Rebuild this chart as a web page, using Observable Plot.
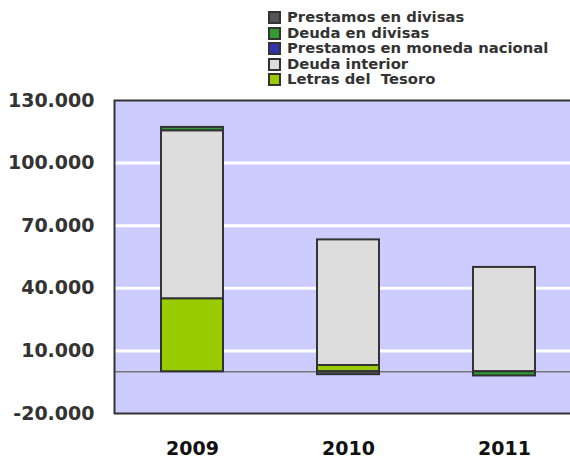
<!DOCTYPE html>
<html>
<head>
<meta charset="utf-8">
<script src="https://cdn.jsdelivr.net/npm/d3@7"></script>
<script src="https://cdn.jsdelivr.net/npm/@observablehq/plot@0.6"></script>
<style>
  html, body { margin: 0; padding: 0; background: #fff; overflow: hidden; width: 570px; height: 461px; }
  #legend { position: relative; height: 88px; width: 570px; font-family: "DejaVu Sans", sans-serif; font-weight: bold; font-size: 14.8px; color: #333; }
  .row { position: absolute; left: 268px; height: 15px; line-height: 15px; white-space: pre; }
  .sw { position: absolute; left: 0; top: 2px; width: 9px; height: 9px; border: 2px solid #333; }
  .lbl { position: absolute; left: 19px; top: 0; }
  #chart { width: 570px; overflow: hidden; }
  #chart svg { display: block; max-width: none !important; width: 610px !important; height: 373px !important; }
</style>
</head>
<body>
<div id="legend"></div>
<div id="chart"></div>
<script>
const years = ["2009", "2010", "2011"];
const seriesNames = ["Letras del  Tesoro", "Deuda interior", "Prestamos en moneda nacional", "Deuda en divisas", "Prestamos en divisas"];
const seriesColors = ["#99cc00", "#dddddd", "#3333aa", "#339933", "#555555"];
const letras = [35000, 3000, 0];
const deudaInterior = [80500, 60200, 50000];
const prestamosMonedaNacional = [0, 0, 0];
const deudaDivisas = [1600, 0, -2000];
const prestamosDivisas = [0, -1400, 0];
const yTicks = [-20000, 10000, 40000, 70000, 100000, 130000];
const gridValues = [10000, 40000, 70000, 100000];

const seriesValues = [letras, deudaInterior, prestamosMonedaNacional, deudaDivisas, prestamosDivisas];
const data = [];
seriesNames.forEach((s, i) => {
  years.forEach((y, j) => {
    if (seriesValues[i][j] !== 0) data.push({year: y, series: s, value: seriesValues[i][j]});
  });
});

const legend = document.getElementById("legend");
const legendOrder = [4, 3, 2, 1, 0];
legendOrder.forEach((k, i) => {
  const row = document.createElement("div");
  row.className = "row";
  row.style.top = (9 + i * 15.5) + "px";
  const sw = document.createElement("div");
  sw.className = "sw";
  sw.style.background = seriesColors[k];
  const lbl = document.createElement("div");
  lbl.className = "lbl";
  lbl.textContent = seriesNames[k];
  row.appendChild(sw);
  row.appendChild(lbl);
  legend.appendChild(row);
});

const fmt = d => d3.format(",")(d).replace(/,/g, ".").replace("\u2212", "-");

const chart = Plot.plot({
  width: 610,
  height: 373,
  marginTop: 12,
  marginBottom: 48,
  marginLeft: 114,
  marginRight: 0,
  style: {fontFamily: "DejaVu Sans, sans-serif", fontWeight: "bold", fontSize: "19px", color: "#333", background: "#fff", maxWidth: "none"},
  x: {domain: years, range: [114, 582], paddingInner: 0.6, paddingOuter: 0.3, label: null},
  y: {domain: [-20000, 130000], ticks: yTicks, tickFormat: fmt, label: null},
  color: {domain: seriesNames, range: seriesColors},
  marks: [
    Plot.frame({fill: "#ccccff"}),
    Plot.ruleY(gridValues, {stroke: "#fff", strokeWidth: 3}),
    Plot.ruleY([0], {stroke: "#777", strokeWidth: 1.5}),
    Plot.barY(data, {x: "year", y: "value", fill: "series", stroke: "#333", strokeWidth: 2, order: seriesNames}),
    Plot.frame({stroke: "#333", strokeWidth: 2}),
    Plot.axisY({ticks: yTicks, tickFormat: fmt, tickSize: 0, tickPadding: 20, fill: "#333", fontSize: 19, fontWeight: "bold"}),
    Plot.axisX({tickSize: 0, tickPadding: 28, fill: "#111", fontSize: 19, fontWeight: "bold"})
  ]
});
document.getElementById("chart").appendChild(chart);
</script>
</body>
</html>
